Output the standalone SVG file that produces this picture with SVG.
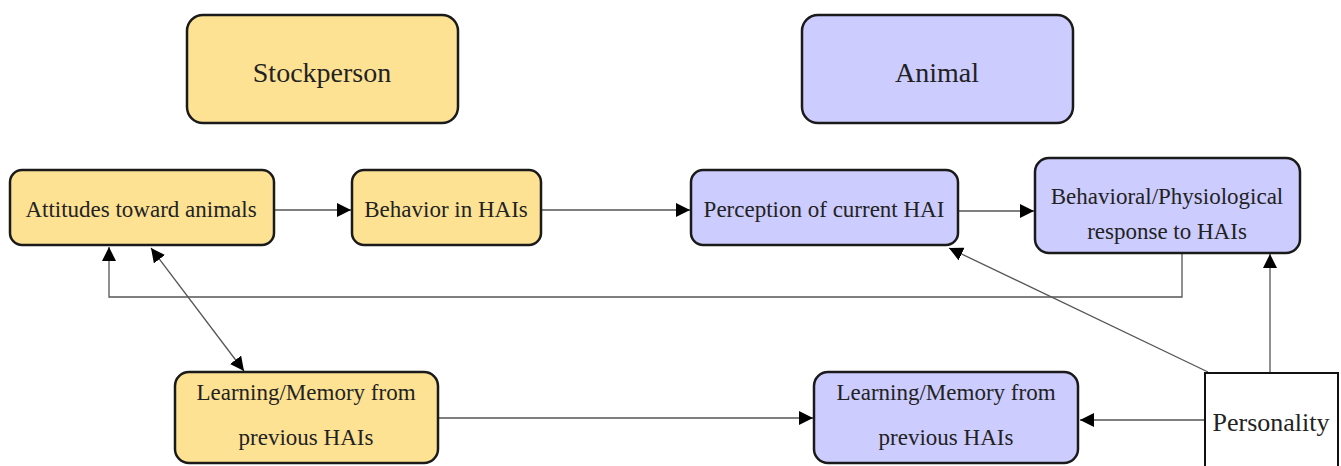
<svg xmlns="http://www.w3.org/2000/svg" width="1341" height="466" viewBox="0 0 1341 466">
<defs>
<style>
.y{fill:#FEE294;stroke:#1a1a1a;stroke-width:2.5}
.p{fill:#CCCCFF;stroke:#1a1a1a;stroke-width:2.5}
.w{fill:#fff;stroke:#111;stroke-width:2}
text{font-family:"Liberation Serif","Times New Roman",serif;fill:#222;text-anchor:middle}
.t{font-size:23px}
.h{font-size:28px}
.c{fill:none;stroke:#555;stroke-width:1.3}
</style>
<marker id="a" viewBox="0 0 10 10" refX="10" refY="5" markerWidth="14" markerHeight="14" markerUnits="userSpaceOnUse" orient="auto-start-reverse">
<path d="M0,0 L10,5 L0,10 z" fill="#000"/>
</marker>
</defs>
<rect width="1341" height="466" fill="#fff"/>
<g id="connectors">
<line class="c" x1="274" y1="210" x2="351" y2="210" marker-end="url(#a)"/>
<line class="c" x1="541" y1="210" x2="690" y2="210" marker-end="url(#a)"/>
<line class="c" x1="958" y1="211" x2="1034" y2="211" marker-end="url(#a)"/>
<polyline class="c" points="1182,253 1182,297 109,297 109,247" marker-end="url(#a)"/>
<line class="c" x1="151" y1="248" x2="244" y2="371" marker-start="url(#a)" marker-end="url(#a)"/>
<line class="c" x1="1208" y1="372" x2="949" y2="248" marker-end="url(#a)"/>
<line class="c" x1="1270" y1="372" x2="1270" y2="254" marker-end="url(#a)"/>
<line class="c" x1="438" y1="418" x2="813" y2="418" marker-end="url(#a)"/>
<line class="c" x1="1205" y1="420" x2="1080" y2="420" marker-end="url(#a)"/>
</g>
<g id="stockperson">
<rect class="y" x="187" y="15" width="271" height="108" rx="16"/>
<text class="h" x="322" y="82">Stockperson</text>
</g>
<g id="animal">
<rect class="p" x="802" y="15" width="271" height="108" rx="16"/>
<text class="h" x="937" y="82">Animal</text>
</g>
<g id="attitudes">
<rect class="y" x="10" y="170" width="264" height="75" rx="12"/>
<text class="t" x="141" y="217">Attitudes toward animals</text>
</g>
<g id="behavior">
<rect class="y" x="352" y="170" width="189" height="75" rx="12"/>
<text class="t" x="446" y="217">Behavior in HAIs</text>
</g>
<g id="perception">
<rect class="p" x="691" y="170" width="267" height="75" rx="12"/>
<text class="t" x="824" y="217">Perception of current HAI</text>
</g>
<g id="response">
<rect class="p" x="1035" y="158" width="265" height="95" rx="14"/>
<text class="t" x="1167" y="204">Behavioral/Physiological</text>
<text class="t" x="1167" y="239">response to HAIs</text>
</g>
<g id="learning-stockperson">
<rect class="y" x="175" y="372" width="263" height="91" rx="14"/>
<text class="t" x="306" y="400">Learning/Memory from</text>
<text class="t" x="306" y="445">previous HAIs</text>
</g>
<g id="learning-animal">
<rect class="p" x="814" y="372" width="264" height="91" rx="14"/>
<text class="t" x="946" y="400">Learning/Memory from</text>
<text class="t" x="946" y="445">previous HAIs</text>
</g>
<g id="personality">
<rect class="w" x="1205" y="373" width="133" height="100"/>
<text class="t" x="1271" y="431" style="font-size:26px">Personality</text>
</g>
</svg>
